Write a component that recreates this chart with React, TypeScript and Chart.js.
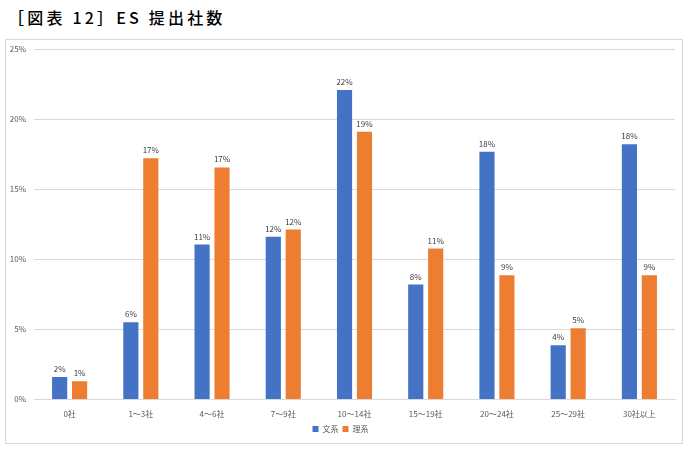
import React, { useEffect, useRef } from "react";
import { Chart, registerables } from "chart.js";

Chart.register(...registerables);

const categories = ["0社", "1～3社", "4～6社", "7～9社", "10～14社", "15～19社", "20～24社", "25～29社", "30社以上"];
const bunkei = [1.6, 5.5, 11.05, 11.6, 22.07, 8.2, 17.67, 3.86, 18.2];
const rikei = [1.3, 17.2, 16.55, 12.12, 19.1, 10.76, 8.86, 5.07, 8.86];
const seriesNames = ["文系", "理系"];
const yTicks = [0, 5, 10, 15, 20, 25];

const FONT = "'Noto Sans CJK JP', 'Noto Sans', sans-serif";

const labelPlugin = {
  id: "barLabels",
  afterDatasetsDraw(chart: any) {
    const ctx = chart.ctx;
    ctx.save();
    ctx.font = `8px ${FONT}`;
    ctx.fillStyle = "#404040";
    ctx.textAlign = "center";
    ctx.textBaseline = "bottom";
    chart.data.datasets.forEach((ds: any, i: number) => {
      const meta = chart.getDatasetMeta(i);
      meta.data.forEach((bar: any, j: number) => {
        ctx.fillText(Math.round(ds.data[j]) + "%", bar.x, bar.y - 4);
      });
    });
    ctx.restore();
  },
};

export default function App() {
  const ref = useRef<HTMLCanvasElement>(null);
  useEffect(() => {
    if (!ref.current) return;
    const chart = new Chart(ref.current, {
      type: "bar",
      data: {
        labels: categories,
        datasets: [
          { label: seriesNames[0], data: bunkei, backgroundColor: "#4472C4", categoryPercentage: 0.56, barPercentage: 0.76 },
          { label: seriesNames[1], data: rikei, backgroundColor: "#ED7D31", categoryPercentage: 0.56, barPercentage: 0.76 },
        ],
      },
      options: {
        animation: false,
        responsive: false,
        layout: { padding: { left: 0, right: 7, top: 9, bottom: 0 } },
        plugins: {
          legend: {
            position: "bottom",
            labels: { boxWidth: 6, boxHeight: 6, font: { size: 8, family: FONT }, color: "#595959", padding: 4 },
          },
          tooltip: { enabled: false },
        },
        scales: {
          x: {
            grid: { display: false },
            border: { color: "#d9d9d9" },
            ticks: { font: { size: 8, family: FONT }, color: "#595959", maxRotation: 0, padding: 2 },
          },
          y: {
            min: 0,
            max: 25,
            afterBuildTicks: (s: any) => { s.ticks = yTicks.map((v) => ({ value: v })); },
            afterFit: (s: any) => { s.width = 28; s.paddingTop = 0; s.paddingBottom = 0; },
            grid: { color: "#d9d9d9", drawTicks: false },
            border: { display: false },
            ticks: { font: { size: 8, family: FONT }, color: "#595959", padding: 8, callback: (v: any) => v + "%" },
          },
        },
      },
      plugins: [labelPlugin],
    });
    return () => chart.destroy();
  }, []);

  return (
    <div style={{ position: "absolute", left: 0, top: 0, width: 689, height: 451, background: "#fff" }}>
      <div style={{ position: "absolute", left: 8, top: 5, fontFamily: FONT, fontWeight: 500, fontSize: 16, letterSpacing: 3.2, color: "#000", whiteSpace: "nowrap" }}>
        ［図表 12］ES 提出社数
      </div>
      <div style={{ position: "absolute", left: 5, top: 39, width: 676, height: 403, border: "1px solid #d9d9d9" }}>
        <canvas ref={ref} width={676} height={403} style={{ display: "block" }} />
      </div>
    </div>
  );
}
